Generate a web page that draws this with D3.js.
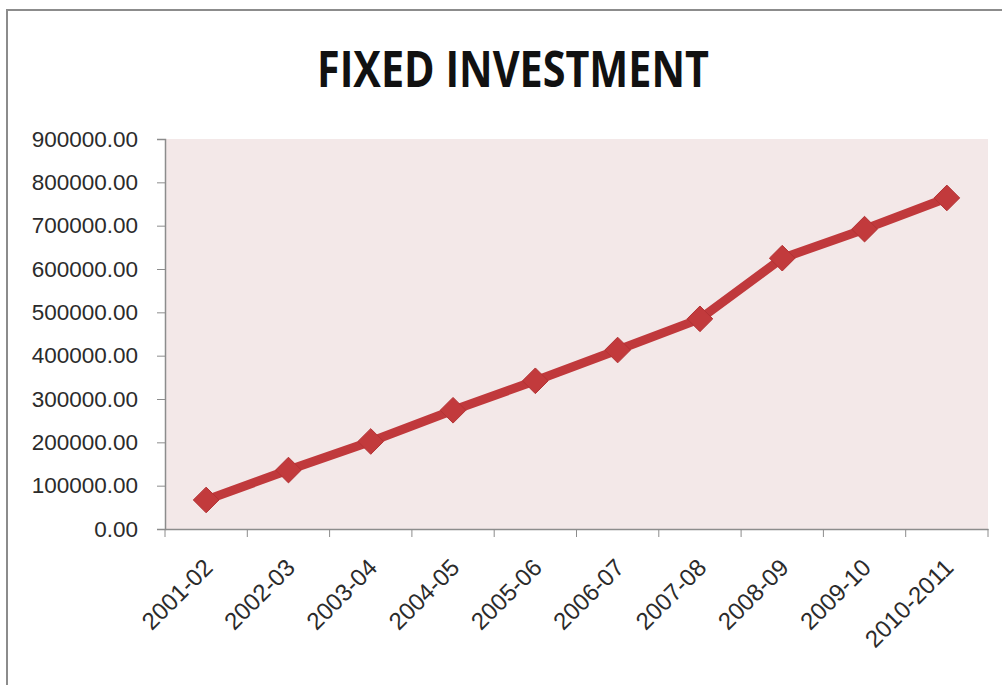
<!DOCTYPE html>
<html>
<head>
<meta charset="utf-8">
<script src="https://cdn.jsdelivr.net/npm/d3@7"></script>
<style>
  body { margin: 0; background: #fff; }
  svg { display: block; }
</style>
</head>
<body>
<div id="chart"></div>
<script>
// fixed investment per year
var years = ["2001-02", "2002-03", "2003-04", "2004-05", "2005-06",
    "2006-07", "2007-08", "2008-09", "2009-10", "2010-2011"];
var investment = [67000, 136000, 202000, 274000, 342000,
    413000, 485000, 625000, 692000, 764000];
var yTicks = [0, 100000, 200000, 300000, 400000, 500000, 600000, 700000, 800000, 900000];

var width = 1002,
    height = 685,
    margin = {top: 139, right: 14, bottom: 156, left: 165};

var svg = d3.select("#chart").append("svg")
    .attr("width", width)
    .attr("height", height);

// outer frame
svg.append("rect")
    .attr("x", 7).attr("y", 10)
    .attr("width", width + 20).attr("height", height + 20)
    .attr("fill", "#fff")
    .attr("stroke", "#8c8c8c")
    .attr("stroke-width", 2);

svg.append("text")
    .attr("x", 513).attr("y", 87)
    .attr("text-anchor", "middle")
    .attr("textLength", 392)
    .attr("lengthAdjust", "spacingAndGlyphs")
    .style("font-family", "'Open Sans', sans-serif")
    .style("font-weight", "bold")
    .style("font-size", "50px")
    .style("fill", "#111")
    .text("FIXED INVESTMENT");

var w = width - margin.left - margin.right,
    h = height - margin.top - margin.bottom;

var g = svg.append("g")
    .attr("transform", "translate(" + margin.left + "," + margin.top + ")");

var x = d3.scaleBand().domain(years).range([0, w]);
var y = d3.scaleLinear().domain([0, 900000]).range([h, 0]);

g.append("rect")
    .attr("width", w).attr("height", h)
    .attr("fill", "#f3e8e8");

var yAxis = g.append("g")
    .call(d3.axisLeft(y).tickValues(yTicks).tickSize(8).tickPadding(19)
        .tickFormat(function (d) { return d3.format(".2f")(d); }));

var xAxis = g.append("g")
    .attr("transform", "translate(0," + h + ")")
    .call(d3.axisBottom(x).tickSize(0).tickPadding(0));

// excel style ticks between categories
xAxis.selectAll(".tick line").remove();
xAxis.selectAll(".bnd")
    .data(d3.range(years.length + 1))
    .enter().append("line")
    .attr("x1", function (i) { return i * x.step(); })
    .attr("x2", function (i) { return i * x.step(); })
    .attr("y1", 0).attr("y2", 8)
    .attr("stroke", "#8c8c8c");

[yAxis, xAxis].forEach(function (a) {
    a.select(".domain").attr("stroke", "#8c8c8c").attr("stroke-width", 1.5);
    a.selectAll(".tick line").attr("stroke", "#8c8c8c");
    a.selectAll("text")
        .style("font-family", "'Liberation Sans', Arial, sans-serif")
        .style("font-size", "22.5px")
        .style("fill", "#2b2b2b");
});

xAxis.selectAll(".tick text")
    .attr("text-anchor", "end")
    .attr("dy", null)
    .style("font-size", "24px")
    .attr("transform", "translate(8,40) rotate(-45)");

var line = d3.line()
    .x(function (d, i) { return x(years[i]) + x.bandwidth() / 2; })
    .y(function (d) { return y(d); });

g.append("path")
    .datum(investment)
    .attr("d", line)
    .attr("fill", "none")
    .attr("stroke", "#c0393c")
    .attr("stroke-width", 9)
    .attr("stroke-linejoin", "round");

g.selectAll(".pt")
    .data(investment)
    .enter().append("path")
    .attr("class", "pt")
    .attr("transform", function (d, i) {
        return "translate(" + (x(years[i]) + x.bandwidth() / 2) + "," + y(d) + ")";
    })
    .attr("d", d3.symbol().type(d3.symbolDiamond2).size(420))
    .attr("fill", "#c23a3c")
    .attr("stroke", "#b33234")
    .attr("stroke-width", 1);
</script>
</body>
</html>
